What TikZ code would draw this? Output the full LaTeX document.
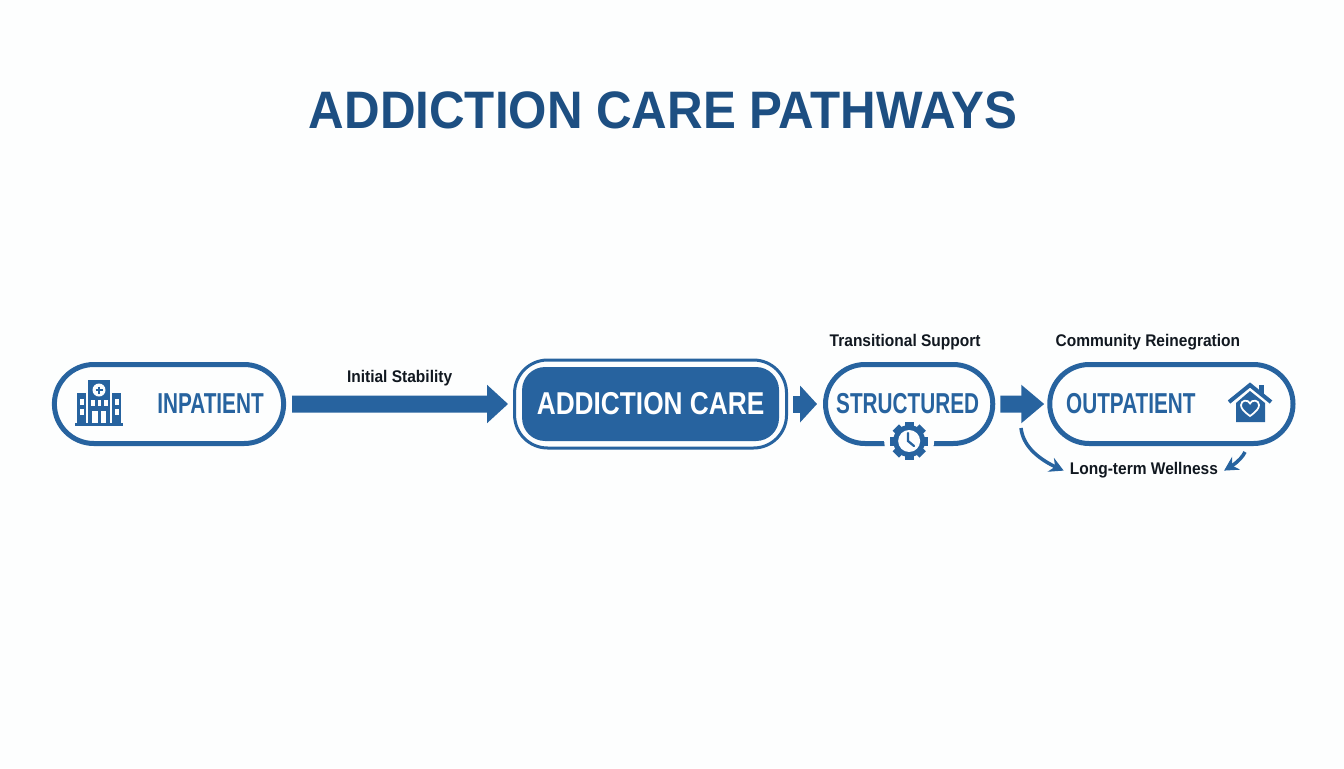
\documentclass[tikz,border=0pt]{standalone}
\usepackage{fontspec}
\setmainfont{Liberation Sans}
\newfontfamily\pillfont[FakeStretch=.72]{Liberation Sans}
\newfontfamily\carefont[FakeStretch=.83]{Liberation Sans}
\newfontfamily\notefont[FakeStretch=.92]{Liberation Sans}
\newfontfamily\titlefont[FakeStretch=.935]{Liberation Sans}
\usetikzlibrary{positioning,shapes.misc,arrows.meta,bending}
\definecolor{pagebg}{HTML}{FDFEFE}
\definecolor{careblue}{HTML}{27639F}
\definecolor{titleblue}{HTML}{1D4F82}
\definecolor{notetext}{HTML}{111820}
\tikzstyle{pill} = [rounded rectangle, draw=careblue, line width=0.1cm, minimum height=1.58cm]
\tikzstyle{pilltext} = [text=careblue, font=\pillfont\bfseries\fontsize{16.4pt}{18pt}\selectfont]
\tikzstyle{note} = [text=notetext, font=\notefont\bfseries\fontsize{9.6pt}{11pt}\selectfont]
\tikzstyle{flow} = [draw=careblue, line width=0.34cm]
\tikzstyle{thinflow} = [draw=careblue, line width=0.07cm, -{Stealth[length=0.28cm,width=0.3cm]}]
\tikzstyle{iconfill} = [fill=careblue]
\tikzstyle{iconhole} = [fill=pagebg]
\begin{document}
\begin{tikzpicture}[x=0.02cm,y=-0.02cm]
  \fill [pagebg] (0,0) rectangle (1344,768);
  \node (title) [text=titleblue, font=\titlefont\bfseries\fontsize{30pt}{34pt}\selectfont] at (663,110) {ADDICTION CARE PATHWAYS};

  % pills, left to right
  \node (inpatient) [pill, minimum width=4.82cm] at (169,404) {};
  \node (care) [rectangle, rounded corners=0.66cm, draw=careblue, line width=0.06cm, minimum width=5.44cm, minimum height=1.76cm, right=4.54cm of inpatient] {};
  \node (careinner) [rectangle, rounded corners=0.46cm, fill=careblue, minimum width=5.14cm, minimum height=1.48cm, text=white, font=\carefont\bfseries\fontsize{18pt}{20pt}\selectfont] at (care.center) {ADDICTION CARE};
  \node (structured) [pill, minimum width=3.58cm, right=0.7cm of care] {};
  \node (outpatient) [pill, minimum width=5.1cm, right=1.04cm of structured] {};

  \node (inpatienttext) [pilltext, xshift=0.83cm] at (inpatient.center) {INPATIENT};
  \node (structuredtext) [pilltext, xshift=-0.03cm, yshift=0.01cm] at (structured.center) {STRUCTURED};
  \node (outpatienttext) [pilltext, xshift=-0.81cm] at (outpatient.center) {OUTPATIENT};

  % notes
  \node (transitional) [note, above=0.11cm of structured, xshift=-0.08cm] {Transitional Support};
  \node (community) [note, above=0.11cm of outpatient, xshift=-0.47cm] {Community Reinegration};
  \node (wellness) [note, below=0.21cm of outpatient, xshift=-0.55cm] {Long-term Wellness};

  % connectors
  \draw [flow, shorten <=0.12cm, shorten >=0.1cm, -{Triangle[length=0.42cm,width=0.74cm]}] (inpatient) -- node[note, yshift=0.52cm] (stability) {Initial Stability} (care);
  \draw [flow, shorten <=0.1cm, shorten >=0.12cm, -{Triangle[length=0.34cm,width=0.72cm]}] (care) -- (structured);
  \draw [flow, shorten <=0.1cm, shorten >=0.06cm, -{Triangle[length=0.46cm,width=0.74cm]}] (structured) -- (outpatient);
  \coordinate (wellstart) at (1021,428);
  \coordinate (wellend) at (1245,452);
  \draw [thinflow] (wellstart) .. controls (1023,446) and (1038,460) .. (wellness.west);
  \draw [thinflow] (wellend) .. controls (1242,458) and (1236,464) .. (wellness.east);

  % gear on the lower edge of the structured pill
  \node (gear) [circle, fill=pagebg, minimum size=1cm, inner sep=0pt, yshift=0.1cm] at (structured.south) {};
  \foreach \a in {0,45,...,315}
    \draw [careblue, line width=0.18cm] (gear.center) -- ++(\a:19);
  \fill [iconfill] (gear.center) circle (0.32cm);
  \fill [iconhole] (gear.center) circle (0.22cm);
  \draw [careblue, line width=0.045cm, line cap=round] (908,433) -- (908,441) -- (914,446);

  % hospital icon
  \fill [iconfill] (88,380) rectangle (110,423);
  \fill [iconfill] (77,393) rectangle (86,423);
  \fill [iconfill] (112,393) rectangle (121,423);
  \fill [iconfill] (75,423) rectangle (123,426);
  \fill [iconhole] (99,390) circle (0.13cm);
  \draw [careblue, line width=0.04cm] (95.5,390) -- (102.5,390) (99,386.5) -- (99,393.5);
  \foreach \y in {399,409} {
    \fill [iconhole] (79.5,\y) rectangle (83.5,\y+6);
    \fill [iconhole] (114.5,\y) rectangle (118.5,\y+6);
  }
  \foreach \x in {91,97.5,104}
    \fill [iconhole] (\x,400) rectangle (\x+3.5,406);
  \fill [iconhole] (92,411) rectangle (106,423);
  \fill [iconfill] (97.5,411) rectangle (100.5,423);

  % house icon
  \fill [iconfill] (1259,385) rectangle (1264,394);
  \draw [careblue, line width=0.08cm] (1229,402) -- (1250,385) -- (1271,402);
  \fill [iconfill] (1236,403) -- (1250,391) -- (1265,403) -- (1265,422) -- (1236,422) -- cycle;
  \draw [pagebg, line width=0.035cm] (1250,416) .. controls (1243,411) and (1241,408) .. (1241,405) .. controls (1241,400) and (1248,399) .. (1250,403.5) .. controls (1252,399) and (1259,400) .. (1259,405) .. controls (1259,408) and (1257,411) .. (1250,416) -- cycle;
\end{tikzpicture}
\end{document}
